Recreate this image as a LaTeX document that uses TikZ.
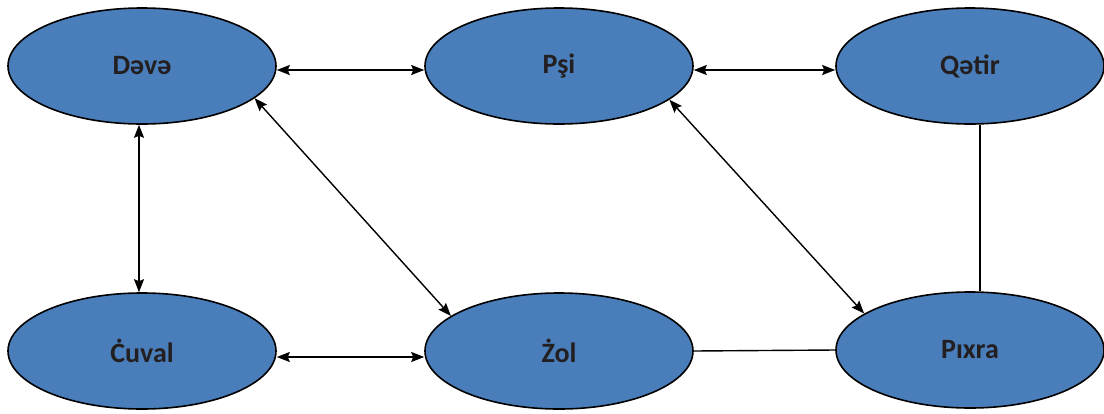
\documentclass[tikz,border=0pt]{standalone}
\usepackage{fontspec}
\setmainfont{Carlito}
\usetikzlibrary{positioning,shapes.geometric,arrows.meta}
\definecolor{heyvan}{HTML}{4A7EBB}
\definecolor{yazi}{HTML}{231F20}
\begin{document}
\begin{tikzpicture}[x=1pt,y=-1pt]
            \tikzset{
                animal/.style={ellipse,draw=black,line width=1.6pt,fill=heyvan,
                    minimum width=268pt,minimum height=116pt,inner sep=0pt,
                    text=yazi,font=\fontsize{28}{30}\selectfont\bfseries},
                link/.style={line width=1.4pt,{Stealth[length=13pt,width=10pt,inset=2pt]}-{Stealth[length=13pt,width=10pt,inset=2pt]}},
                plain/.style={line width=1.4pt},}
            \useasboundingbox (0,0) rectangle (1104,413);
            \node[animal] (deve) at (142,66) {Dəvə};
            \node[animal] (psi) at (559,66) {Pşi};
            \node[animal] (qatir) at (970,66) {Qətir};
            \node[animal] (cuval) at (142,351) {Ċuval};
            \node[animal] (zol) at (559,351) {Żol};
            \node[animal] (pixra) at (970,350) {Pıxra};
            % ust sira
            \draw[link] ([yshift=-4pt]deve.east) -- ([yshift=-4pt]psi.west);
            \draw[link] ([yshift=-4pt]psi.east) -- ([yshift=-4pt]qatir.west);
            % alt sira
            \draw[link] ([yshift=-6pt]cuval.east) -- ([yshift=-6pt]zol.west);
            \draw[plain] (zol.east) -- (pixra.west);
            % saquli
            \draw[link] ([xshift=-3pt]deve.south) -- ([xshift=-3pt]cuval.north);
            \draw[plain] ([xshift=10pt]qatir.south) -- ([xshift=10pt]pixra.north);
            % diaqonal
            \draw[link] (deve.-16) -- (zol.162);
            \draw[link] (psi.-17) -- (pixra.161);
        \end{tikzpicture}
\end{document}
